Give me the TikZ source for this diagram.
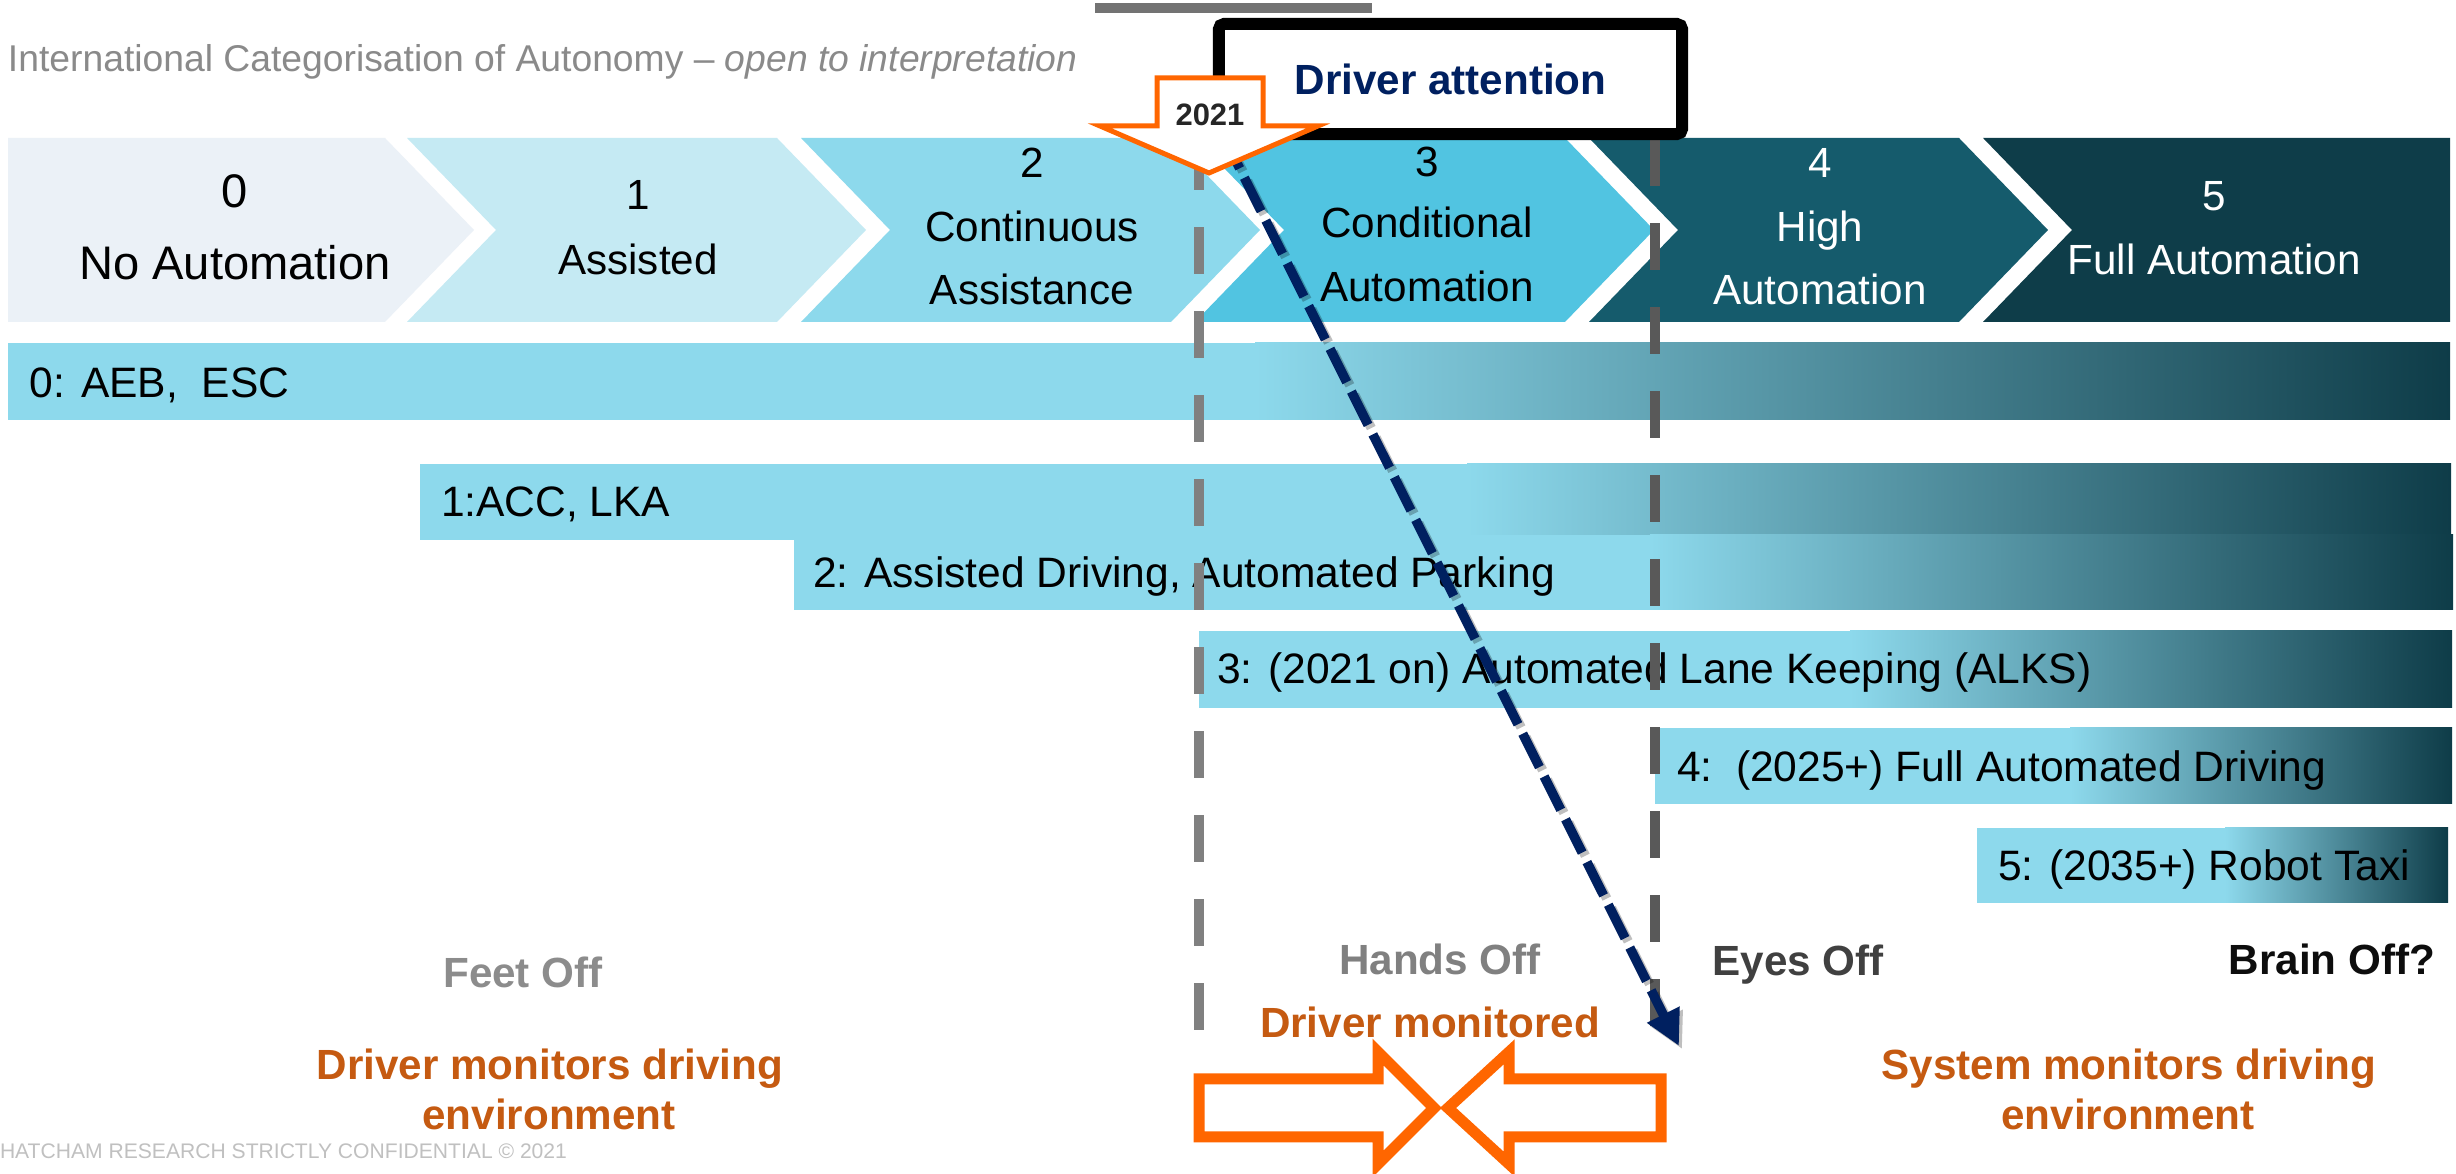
\documentclass[tikz,border=0pt]{standalone}
\usepackage{fontspec}
\setmainfont{Liberation Sans}
\usetikzlibrary{arrows.meta}
\definecolor{cA}{HTML}{EBF1F7}
\definecolor{cB}{HTML}{C5EAF3}
\definecolor{cC}{HTML}{8DD9EC}
\definecolor{cD}{HTML}{51C4E1}
\definecolor{cE}{HTML}{155B6C}
\definecolor{cF}{HTML}{0E3D49}
\definecolor{barlight}{HTML}{8DD9EC}
\definecolor{bardark}{HTML}{0E3C48}
\definecolor{navy}{HTML}{002060}
\definecolor{orng}{HTML}{FF6600}
\definecolor{brn}{HTML}{C55A11}
\definecolor{titlegrey}{HTML}{8A8A8A}
\definecolor{lineA}{HTML}{808080}
\definecolor{lineB}{HTML}{595959}
\definecolor{footgrey}{HTML}{C0C0C0}
\definecolor{topbar}{HTML}{737373}
\begin{document}
\begin{tikzpicture}[x=0.01cm,y=-0.01cm,
  every node/.style={inner sep=0pt,outer sep=0pt},
  chevtxt/.style={anchor=base,font=\fontsize{12}{14}\selectfont},
  chevbig/.style={anchor=base,font=\fontsize{13.4}{16}\selectfont},
  bartxt/.style={anchor=base west,font=\fontsize{12.1}{14}\selectfont},
  boldlbl/.style={anchor=base,font=\bfseries\fontsize{12}{14}\selectfont},
  vdash/.style={line width=3.1pt,dash pattern=on 13.37pt off 10.53pt},
  grad/.style={left color=barlight,right color=bardark},
  bigarrow/.style={draw=orng,fill=white,line width=3.13pt,miter limit=10},
  navyline/.style={line width=2.7pt,dash pattern=on 10.6pt off 3pt,
      -{Triangle[length=10pt,width=9.7pt]}}
]
\clip (0,0) rectangle (2456,1174);
\fill[white] (0,0) rectangle (2456,1174);

% title and top bar
\node[anchor=base west,text=titlegrey,font=\fontsize{10.6}{12}\selectfont] (title) at (8,72)
  {International Categorisation of Autonomy -- \textit{open to interpretation}};
\fill[topbar] (1095,3) rectangle (1372,13);

% chevrons
\fill[cA] (8,138) -- (385,138) -- (474,230) -- (385,322) -- (8,322) -- cycle;
\fill[cB] (407,138) -- (777,138) -- (866,230) -- (777,322) -- (407,322) -- (496,230) -- cycle;
\fill[cC] (801,138) -- (1171,138) -- (1260,230) -- (1171,322) -- (801,322) -- (890,230) -- cycle;
\fill[cD] (1195,138) -- (1565,138) -- (1654,230) -- (1565,322) -- (1195,322) -- (1284,230) -- cycle;
\fill[cE] (1589,138) -- (1959,138) -- (2048,230) -- (1959,322) -- (1589,322) -- (1678,230) -- cycle;
\fill[cF] (1983,138) -- (2450,138) -- (2450,322) -- (1983,322) -- (2072,230) -- cycle;

\node[chevbig] (c0a) at (235,208) {0};
\node[chevbig] (c0b) at (235,280) {No Automation};
\node[chevtxt] (c1a) at (638,210) {1};
\node[chevtxt] (c1b) at (638,275) {Assisted};
\node[chevtxt] (c2a) at (1032,178) {2};
\node[chevtxt] (c2b) at (1032,242) {Continuous};
\node[chevtxt] (c2c) at (1032,305) {Assistance};
\node[chevtxt] (c3a) at (1427,177) {3};
\node[chevtxt] (c3b) at (1427,238) {Conditional};
\node[chevtxt] (c3c) at (1427,302) {Automation};
\node[chevtxt,text=white] (c4a) at (1820,178) {4};
\node[chevtxt,text=white] (c4b) at (1820,242) {High};
\node[chevtxt,text=white] (c4c) at (1820,305) {Automation};
\node[chevtxt,text=white] (c5a) at (2214,211) {5};
\node[chevtxt,text=white] (c5b) at (2214,275) {Full Automation};

% bars
\fill[barlight] (8,343) rectangle (1256,420);
\shade[grad] (1255,343) rectangle (2450,420);
\fill[barlight] (420,464) rectangle (1468,540);
\shade[grad] (1467,464) rectangle (2451,540);
\fill[barlight] (794,535) rectangle (1651,610);
\shade[grad] (1650,535) rectangle (2453,610);
\fill[barlight] (1199,631) rectangle (1851,708);
\shade[grad] (1850,631) rectangle (2452,708);
\fill[barlight] (1655,728) rectangle (2071,804);
\shade[grad] (2070,728) rectangle (2452,804);
\fill[barlight] (1977,828) rectangle (2226,903);
\shade[grad] (2225,828) rectangle (2448,903);

\node[bartxt] (b0) at (30,398) {0: AEB,\ \ ESC};
\node[bartxt] (b1) at (441,517) {1:ACC, LKA};
\node[bartxt] (b2) at (813,588) {2: Assisted Driving, Automated Parking};
\node[bartxt] (b3) at (1217,684) {3: (2021 on) Automated Lane Keeping (ALKS)};
\node[bartxt] (b4) at (1677,782) {4:\ \ (2025+) Full Automated Driving};
\node[bartxt] (b5) at (1998,881) {5: (2035+) Robot Taxi};

% vertical dashed lines
\coordinate (l1top) at (1199,143);
\coordinate (l1bot) at (1199,1031);
\coordinate (l2top) at (1655,139);
\coordinate (l2bot) at (1655,1026);
\draw[vdash,lineA] (l1top) -- (l1bot);
\draw[vdash,lineB] (l2top) -- (l2bot);

% driver attention box
\node[draw=black,fill=white,line width=3.41pt,rounded corners=1.5pt,
      minimum width=4.63cm,minimum height=1.1cm,text=navy,
      font=\bfseries\fontsize{12}{14}\selectfont] (attn) at (1450.5,79) {Driver attention};

% navy dashed arrow (with soft shadow)
\coordinate (nstart) at (1223,135);
\coordinate (ntip) at (1679,1046);
\draw[navyline,black,opacity=0.25,transform canvas={xshift=0.9pt,yshift=-0.9pt}] (nstart) -- (ntip);
\draw[navyline,navy] (nstart) -- (ntip);

% 2021 arrow
\draw[draw=orng,fill=white,line width=1.42pt,miter limit=10]
  (1157,78) -- (1263,78) -- (1263,126) -- (1318,126) -- (1209,173)
  -- (1100,126) -- (1157,126) -- cycle;
\node[anchor=base,text=black!85,font=\bfseries\fontsize{8.8}{10}\selectfont] (yr) at (1210,126) {2021};

% bottom labels
\node[boldlbl,text=black!45] (feet) at (523,988) {Feet Off};
\node[boldlbl,text=black!50] (hands) at (1440,975) {Hands Off};
\node[boldlbl,text=black!75] (eyes) at (1798,976) {Eyes Off};
\node[boldlbl,text=black!95] (brain) at (2332,975) {Brain Off?};

% converging arrows
\draw[bigarrow] (1199,1079) -- (1378,1079) -- (1378,1052) -- (1434,1108)
  -- (1378,1164) -- (1378,1137) -- (1199,1137) -- cycle;
\draw[bigarrow] (1661,1079) -- (1509,1079) -- (1509,1052) -- (1448,1108)
  -- (1509,1164) -- (1509,1137) -- (1661,1137) -- cycle;

\node[boldlbl,text=brn] (dmon) at (1430,1038) {Driver monitored};
\node[boldlbl,text=brn] (dm1) at (550,1080) {Driver monitors driving};
\node[boldlbl,text=brn] (dm2) at (549,1130) {environment};
\node[boldlbl,text=brn] (sm1) at (2129,1080) {System monitors driving};
\node[boldlbl,text=brn] (sm2) at (2128,1130) {environment};

% footer
\node[anchor=base west,text=footgrey,font=\fontsize{6}{7}\selectfont] (foot) at (0,1159)
  {HATCHAM RESEARCH STRICTLY CONFIDENTIAL \textcopyright\ 2021};
\end{tikzpicture}
\end{document}
